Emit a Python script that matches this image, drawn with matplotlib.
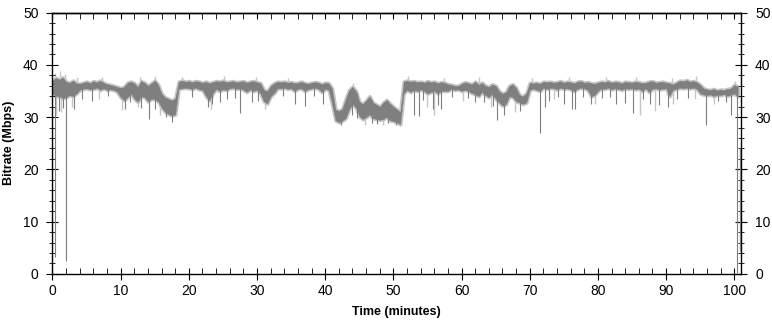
import numpy as np
import matplotlib
matplotlib.use("Agg")
import matplotlib.pyplot as plt
from matplotlib.ticker import MultipleLocator

plt.rcParams['font.family'] = ['Liberation Sans', 'DejaVu Sans']

# sample times (minutes), one every half minute
t = np.arange(0, 101, 0.5)

# upper edge of the dense band (Mbps)
top = [
    37.0, 37.5, 37.2, 37.6, 36.8, 36.6, 37.0, 36.5, 36.4, 36.6,
    36.8, 36.5, 36.9, 36.7, 37.0, 36.6, 36.3, 36.2, 36.0, 35.8,
    35.6, 35.8, 36.6, 36.8, 36.5, 35.8, 36.9, 36.6, 36.0, 36.5,
    37.0, 36.2, 34.5, 33.8, 33.5, 33.2, 33.6, 36.8, 37.0, 36.8,
    36.9, 36.7, 36.9, 36.8, 36.6, 36.8, 36.5, 36.7, 36.9, 36.8,
    37.0, 36.7, 36.8, 36.9, 36.7, 36.8, 36.9, 36.6, 36.8, 36.9,
    36.7, 36.5, 35.2, 35.0, 36.0, 36.5, 36.8, 36.7, 36.8, 36.6,
    36.7, 36.5, 36.6, 36.8, 36.5, 36.4, 36.6, 36.7, 36.6, 36.3,
    36.6, 36.5, 35.5, 31.5, 31.2, 31.6, 33.5, 35.2, 35.8, 35.0,
    33.0, 32.5, 33.2, 34.0, 32.8, 32.4, 32.0, 32.8, 33.3, 32.6,
    32.0, 31.5, 31.0, 36.8, 37.0, 36.8, 36.9, 36.7, 36.8, 36.6,
    36.9, 36.7, 36.8, 36.5, 36.7, 36.6, 36.3, 36.2, 36.0, 36.0,
    36.4, 36.7, 36.5, 36.3, 36.8, 36.2, 36.6, 36.0, 35.8, 36.3,
    36.0, 35.0, 34.5, 34.8, 36.0, 36.3, 35.6, 34.2, 34.0, 34.6,
    36.6, 36.5, 36.6, 36.4, 36.8, 36.7, 36.8, 36.6, 36.7, 36.9,
    36.6, 36.8, 36.7, 36.5, 36.8, 36.9, 36.6, 36.7, 36.5, 36.4,
    36.6, 36.8, 36.7, 36.9, 36.6, 36.8, 36.7, 36.5, 36.8, 36.7,
    36.6, 36.8, 36.7, 36.5, 36.6, 36.8, 36.9, 36.6, 36.7, 36.8,
    36.6, 36.5, 36.3, 36.6, 37.0, 36.9, 37.1, 36.8, 36.9, 36.7,
    36.2, 35.5, 35.3, 35.2, 35.4, 35.1, 35.3, 35.2, 35.4, 35.5,
    36.2, 35.8,
]

# lower edge of the dense band (Mbps)
bot = [
    34.5, 34.0, 34.0, 33.6, 33.8, 34.2, 34.0, 34.5, 35.2, 35.4,
    35.5, 35.3, 35.4, 35.6, 35.2, 35.5, 35.2, 35.3, 35.2, 34.8,
    33.8, 33.2, 33.8, 34.5, 33.5, 32.9, 34.0, 33.8, 33.0, 33.5,
    33.4, 33.0, 31.8, 31.0, 30.6, 30.3, 30.5, 35.4, 35.5, 35.6,
    35.5, 35.4, 35.6, 35.3, 35.2, 34.0, 33.2, 34.5, 35.4, 35.0,
    35.3, 35.2, 35.5, 35.6, 35.4, 35.5, 35.2, 34.8, 35.3, 35.0,
    35.2, 34.5, 33.0, 32.6, 34.0, 34.6, 35.5, 35.5, 35.6, 35.4,
    35.5, 35.0, 35.4, 35.5, 35.0, 35.3, 35.5, 35.6, 35.4, 34.8,
    35.4, 35.2, 32.5, 29.4, 29.0, 29.3, 29.8, 31.5, 32.5, 31.8,
    30.2, 29.6, 30.0, 30.5, 29.8, 29.6, 29.5, 29.6, 30.0, 29.4,
    29.2, 29.0, 28.6, 34.5, 35.2, 34.8, 35.2, 35.0, 35.3, 35.0,
    34.5, 34.8, 35.0, 34.5, 35.0, 35.0, 35.0, 35.4, 35.2, 35.3,
    35.0, 35.2, 35.0, 34.6, 34.4, 34.0, 34.8, 34.2, 33.8, 34.4,
    33.5, 32.8, 32.2, 32.5, 34.0, 33.8, 33.0, 32.8, 32.5, 32.8,
    35.2, 35.4, 35.2, 35.0, 35.6, 35.4, 35.6, 35.5, 35.3, 35.6,
    35.4, 35.5, 35.3, 35.0, 35.4, 35.6, 35.5, 35.2, 34.0, 34.2,
    35.0, 35.5, 35.4, 35.6, 35.3, 35.5, 35.4, 35.2, 35.5, 35.4,
    35.5, 35.3, 35.4, 35.0, 35.5, 34.8, 35.4, 35.5, 35.3, 35.4,
    35.5, 34.0, 35.2, 35.4, 35.6, 35.5, 35.6, 35.5, 35.6, 35.4,
    34.5, 34.3, 34.2, 34.3, 34.0, 34.3, 34.2, 34.4, 34.1, 34.3,
    34.5, 34.0,
]

# short downward drops (time, lowest value)
drop_t = [0.3, 2.0, 1.0, 1.6, 3.1, 4.4, 5.8, 8.2, 10.6, 11.4, 13.0, 14.2,
          15.1, 16.6, 17.6, 20.4, 22.8, 23.4, 24.5, 25.6, 26.8, 27.5, 29.2,
          30.2, 33.8, 35.5, 37.0, 38.4, 39.7, 42.3, 43.9, 44.6, 46.8, 47.6,
          49.2, 50.4, 53.0, 53.7, 54.4, 55.8, 56.5, 57.0, 58.6, 61.0, 62.0,
          63.3, 64.6, 65.2, 66.2, 68.6, 71.5, 72.3, 72.8, 74.1, 75.0, 76.2,
          76.6, 77.8, 79.0, 80.6, 81.8, 82.7, 84.0, 85.2, 86.6, 87.6, 89.0,
          90.3, 91.6, 93.2, 95.8, 97.6, 98.8, 99.5, 100.4]
drop_v = [3.3, 2.5, 31.2, 31.8, 31.5, 33.5, 33.0, 34.0, 31.5, 32.8, 31.8, 29.7,
          31.6, 30.0, 29.1, 33.8, 32.0, 32.6, 32.8, 33.5, 33.6, 30.7, 32.8,
          33.0, 34.0, 32.5, 32.2, 34.0, 32.5, 28.4, 30.5, 29.8, 28.9, 28.6,
          28.8, 28.5, 30.5, 30.2, 33.2, 31.5, 32.3, 31.6, 33.8, 33.6, 32.8,
          32.9, 32.2, 29.4, 30.4, 31.2, 26.9, 32.0, 33.0, 33.8, 32.5, 31.5,
          31.6, 33.8, 32.5, 33.6, 33.9, 32.5, 32.7, 30.8, 33.4, 32.5, 32.4,
          32.0, 33.5, 33.6, 28.5, 33.0, 32.8, 30.4, 0.2]

# fainter drops
faint_t = [0.5, 1.2, 2.8, 6.8, 10.2, 12.5, 15.8, 23.2, 31.2, 45.8, 48.5, 55.0,
           56.0, 60.2, 64.3, 67.8, 73.5, 79.6, 86.2, 88.3, 91.0, 94.2, 97.0]
faint_v = [30.5, 31.0, 32.0, 33.5, 31.3, 32.0, 30.5, 31.5, 31.5, 28.5, 28.5, 32.0,
           30.5, 33.0, 32.0, 31.0, 33.5, 32.5, 30.5, 31.2, 32.5, 33.5, 32.5]

# faint upward flickers
up_t = [0.4, 1.1, 1.8, 3.6, 7.2, 12.8, 15.0, 19.0, 25.2, 29.8, 34.6, 44.1,
        52.2, 57.4, 62.6, 70.4, 75.8, 81.2, 85.6, 90.8, 94.4, 100.1]
up_v = [38.4, 38.8, 38.2, 37.6, 37.7, 37.6, 37.8, 37.7, 37.8, 37.6, 37.5, 36.6,
        37.8, 37.5, 37.6, 37.4, 37.6, 37.7, 37.6, 37.5, 37.9, 37.0]

# trace at the very end of the recording
end_t = [100.9]
end_lo = [4.3]
end_hi = [24.0]

dark = '#7f7f7f'
light = '#c6c6c6'

fig = plt.figure(figsize=(7.72, 3.23), dpi=100)
ax = fig.add_axes([0.068, 0.152, 0.892, 0.809])

ax.fill_between(t, bot, top, color=light, lw=2.6, zorder=1)
ax.vlines(faint_t, faint_v, np.interp(faint_t, t, bot), color=light, lw=1.0, zorder=1)
ax.vlines(up_t, np.interp(up_t, t, top), up_v, color=light, lw=1.0, zorder=1)
ax.fill_between(t, bot, top, color=dark, lw=0.2, zorder=2)
ax.vlines(drop_t, drop_v, np.interp(drop_t, t, top), color=dark, lw=0.8, zorder=3)
ax.vlines(end_t, end_lo, end_hi, color=dark, lw=0.9, zorder=3)

ax.set_xlim(0, 101)
ax.set_ylim(0, 50)
ax.xaxis.set_major_locator(MultipleLocator(10))
ax.xaxis.set_minor_locator(MultipleLocator(2))
ax.yaxis.set_major_locator(MultipleLocator(10))
ax.yaxis.set_minor_locator(MultipleLocator(2))

ax.tick_params(axis='y', which='both', direction='inout', left=True, right=True,
               labelleft=True, labelright=True, labelsize=10, pad=6)
ax.tick_params(axis='y', which='major', length=8)
ax.tick_params(axis='y', which='minor', length=5)
ax.tick_params(axis='x', which='major', direction='inout', length=8, labelsize=10, pad=3)
ax.tick_params(axis='x', which='minor', direction='in', length=4)

top_ax = ax.secondary_xaxis('top')
top_ax.xaxis.set_major_locator(MultipleLocator(10))
top_ax.xaxis.set_minor_locator(MultipleLocator(2))
top_ax.tick_params(which='both', direction='in', length=4, labeltop=False)

for s in list(ax.spines.values()) + [top_ax.spines['top']]:
    s.set_linewidth(1.0)

ax.set_xlabel('Time (minutes)', fontsize=9, fontweight='bold', labelpad=6)
ax.set_ylabel('Bitrate (Mbps)', fontsize=9, fontweight='bold', labelpad=6)

fig.savefig('out.png', dpi=100)
